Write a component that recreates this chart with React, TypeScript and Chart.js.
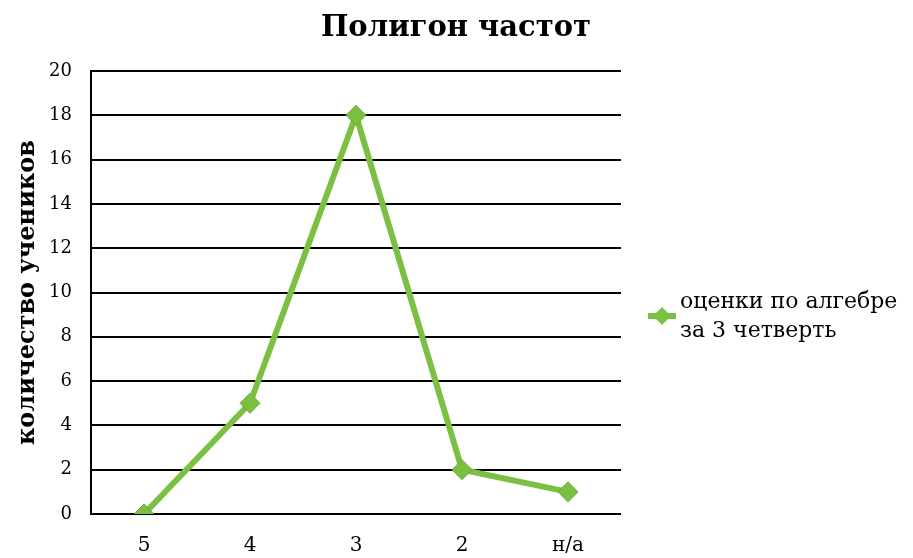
import React, { useEffect, useRef } from "react";
import { Chart, registerables } from "chart.js";

Chart.register(...registerables);

const categories = ["5", "4", "3", "2", "н/а"];
const values = [0, 5, 18, 2, 1];
const seriesLabel = ["оценки по алгебре", "за 3 четверть"];
const chartTitle = "Полигон частот";
const yTitle = "количество учеников";

const GREEN = "#7cc043";
const GREEN_EDGE = "#6aa83a";
const FONT = "'DejaVu Serif', serif";

const customDraw = {
  id: "customDraw",
  afterDraw(chart: any) {
    const ctx = chart.ctx;
    ctx.save();
    // title
    ctx.fillStyle = "#000";
    ctx.font = `bold 29px ${FONT}`;
    ctx.textAlign = "center";
    ctx.textBaseline = "middle";
    ctx.fillText(chartTitle, 456, 28);
    // legend
    const lx = 662;
    const ly = 316;
    ctx.strokeStyle = GREEN;
    ctx.lineWidth = 6;
    ctx.beginPath();
    ctx.moveTo(lx - 14, ly);
    ctx.lineTo(lx + 14, ly);
    ctx.stroke();
    ctx.fillStyle = GREEN;
    ctx.beginPath();
    ctx.moveTo(lx, ly - 9);
    ctx.lineTo(lx + 9, ly);
    ctx.lineTo(lx, ly + 9);
    ctx.lineTo(lx - 9, ly);
    ctx.closePath();
    ctx.fill();
    ctx.fillStyle = "#000";
    ctx.font = `22px ${FONT}`;
    ctx.textAlign = "left";
    ctx.textBaseline = "middle";
    ctx.fillText(seriesLabel[0], 680, 302);
    ctx.fillText(seriesLabel[1], 680, 331);
    ctx.restore();
  },
};

export default function App() {
  const ref = useRef<HTMLCanvasElement | null>(null);
  useEffect(() => {
    if (!ref.current) return;
    const chart = new Chart(ref.current, {
      type: "line",
      data: {
        labels: categories,
        datasets: [
          {
            label: seriesLabel.join(" "),
            data: values,
            borderColor: GREEN,
            borderWidth: 6,
            pointStyle: "rectRot",
            pointRadius: 10,
            pointBackgroundColor: GREEN,
            pointBorderColor: GREEN_EDGE,
            pointBorderWidth: 1,
            tension: 0,
          },
        ],
      },
      options: {
        responsive: false,
        animation: false,
        layout: { padding: { left: 0, top: 71, right: 292, bottom: 0 } },
        plugins: {
          legend: { display: false },
          title: { display: false },
          tooltip: { enabled: false },
        },
        scales: {
          x: {
            offset: true,
            grid: { display: false, drawTicks: false },
            border: { display: false },
            ticks: {
              color: "#000",
              font: { family: FONT, size: 20 },
              padding: 20,
            },
            afterFit(scale: any) {
              scale.height = 44;
            },
          },
          y: {
            min: 0,
            max: 20,
            ticks: {
              stepSize: 2,
              color: "#000",
              font: { family: FONT, size: 18 },
              padding: 19,
            },
            grid: { color: "#000", lineWidth: 2, drawTicks: false },
            border: { display: true, color: "#000", width: 2 },
            title: {
              display: true,
              text: yTitle,
              color: "#000",
              font: { family: FONT, size: 24, weight: "bold" },
              padding: { top: 13, bottom: 0 },
            },
            afterFit(scale: any) {
              scale.width = 91;
            },
          },
        },
      },
      plugins: [customDraw],
    });
    return () => chart.destroy();
  }, []);
  return (
    <div style={{ position: "fixed", left: 0, top: 0, width: 913, height: 558, background: "#fff" }}>
      <canvas ref={ref} width={913} height={558} style={{ width: 913, height: 558 }} />
    </div>
  );
}
